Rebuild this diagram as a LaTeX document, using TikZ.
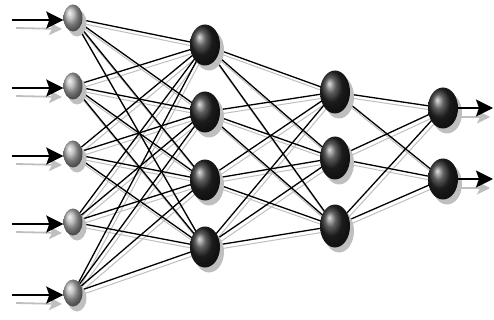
\documentclass[tikz,border=0pt]{standalone}
\usetikzlibrary{shapes.geometric,shadows,arrows.meta,backgrounds}
\begin{document}
\begin{tikzpicture}[x=1pt,y=-1pt,
  nshadow/.style={drop shadow={shadow xshift=4pt,shadow yshift=-5pt,fill=gray!50,opacity=1}},
  inball/.style={ellipse,minimum width=19pt,minimum height=27pt,inner sep=0pt,shading=ball,ball color=gray!65,nshadow},
  hidball/.style={ellipse,minimum width=30pt,minimum height=41pt,inner sep=0pt,shading=ball,ball color=black!85,nshadow},
  edge/.style={black,line width=1.3pt},
  edgeshadow/.style={gray!50,line width=1pt},
  inarrow/.style={black,line width=2.2pt,arrows={-Stealth[length=17pt,width=17pt,inset=3pt]}},
  inarrowshadow/.style={gray!50,line width=1.8pt,arrows={-Stealth[length=13pt,width=13pt,inset=3pt]}}
]
\path[use as bounding box] (0,0) rectangle (494,320);
% nodes
\foreach \y [count=\k] in {18,86,154,222,293} {
  \node[inball] (i\k) at (73,\y) {};
  \coordinate (s\k) at (12,\y+2);
  \coordinate (t\k) at (16,\y+10);
  \coordinate (ti\k) at (62,\y+11);
}
\foreach \y [count=\k] in {45,112,180,247} \node[hidball] (h\k) at (205,\y) {};
\foreach \y [count=\k] in {92,158,226} \node[hidball,minimum height=43pt] (g\k) at (335,\y) {};
\foreach \y [count=\k] in {108,179} {
  \node[hidball] (o\k) at (443,\y) {};
  \coordinate (e\k) at (493,\y);
  \coordinate (es\k) at (490,\y+9);
}
\begin{scope}[on background layer]
  % shadow lines
  \foreach \a in {1,...,5} \foreach \b in {1,...,4}
    \draw[edgeshadow] ([shift={(2,4)}]i\a.center) -- ([shift={(2,4)}]h\b.center);
  \foreach \a in {1,...,4} \foreach \b in {1,...,3}
    \draw[edgeshadow] ([shift={(2,4)}]h\a.center) -- ([shift={(2,4)}]g\b.center);
  \foreach \a in {1,...,3} \foreach \b in {1,2}
    \draw[edgeshadow] ([shift={(2,4)}]g\a.center) -- ([shift={(2,4)}]o\b.center);
  % black lines
  \foreach \a in {1,...,5} \foreach \b in {1,...,4}
    \draw[edge] (i\a.center) -- (h\b.center);
  \foreach \a in {1,...,4} \foreach \b in {1,...,3}
    \draw[edge] (h\a.center) -- (g\b.center);
  \foreach \a in {1,...,3} \foreach \b in {1,2}
    \draw[edge] (g\a.center) -- (o\b.center);
\end{scope}
% input arrows
\foreach \k in {1,...,5} {
  \draw[inarrowshadow] (t\k) -- (ti\k);
  \draw[inarrow] (s\k) -- (i\k.west |- s\k);
}
% output arrows
\foreach \k in {1,2} {
  \draw[inarrowshadow] ([shift={(3,9)}]o\k.east) -- (es\k);
  \draw[inarrow] (o\k.east) -- (e\k);
}
\end{tikzpicture}
\end{document}
